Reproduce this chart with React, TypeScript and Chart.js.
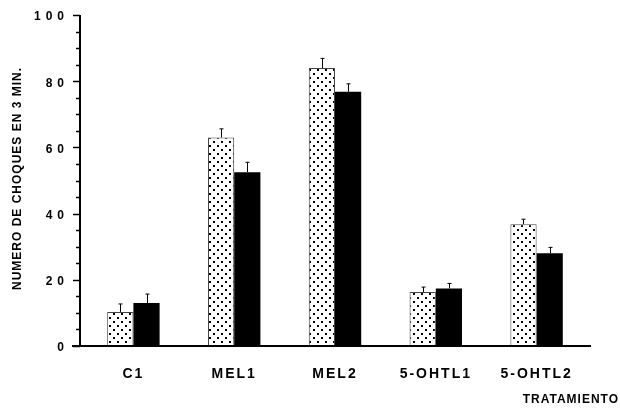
import React, { useEffect, useRef } from "react";
import { Chart, registerables } from "chart.js";

Chart.register(...registerables);

const categories = ["C1", "MEL1", "MEL2", "5-OHTL1", "5-OHTL2"];
const dottedValues = [10.3, 63.0, 84.0, 16.3, 36.8];
const dottedErrors = [2.4, 2.6, 2.9, 1.5, 1.5];
const blackValues = [13.0, 52.5, 76.8, 17.4, 28.0];
const blackErrors = [2.7, 3.0, 2.4, 1.5, 1.8];
const yTickValues = [0, 20, 40, 60, 80, 100];
const yTitle = "NUMERO DE CHOQUES EN 3 MIN.";
const xTitle = "TRATAMIENTO";

const FONT = "'Liberation Sans', Arial, sans-serif";

function makePattern(): CanvasPattern | string {
  const c = document.createElement("canvas");
  c.width = 8;
  c.height = 8;
  const g = c.getContext("2d");
  if (!g) return "#fff";
  g.fillStyle = "#fff";
  g.fillRect(0, 0, 8, 8);
  g.fillStyle = "#000";
  g.fillRect(1, 1, 2, 2);
  g.fillRect(5, 5, 2, 2);
  const p = g.createPattern(c, "repeat");
  return p || "#fff";
}

const customPlugin = {
  id: "custom",
  beforeDraw(chart: any) {
    (chart.ctx as any).letterSpacing = "2px";
  },
  afterDraw(chart: any) {
    const ctx = chart.ctx as any;
    const y = chart.scales.y;
    const area = chart.chartArea;
    const axisX = 80;
    const base = y.getPixelForValue(0);
    const top = y.getPixelForValue(100);
    ctx.save();
    ctx.strokeStyle = "#000";
    ctx.fillStyle = "#000";
    // y axis line
    ctx.lineWidth = 2;
    ctx.beginPath();
    ctx.moveTo(axisX, top);
    ctx.lineTo(axisX, base + 1);
    ctx.stroke();
    // baseline
    ctx.beginPath();
    ctx.moveTo(axisX - 8, base);
    ctx.lineTo(591, base);
    ctx.stroke();
    // ticks every 5
    ctx.lineWidth = 1.5;
    for (let v = 0; v <= 100; v += 5) {
      const py = Math.round(y.getPixelForValue(v)) + 0.5;
      const major = v % 20 === 0;
      ctx.beginPath();
      ctx.moveTo(axisX - (major ? 7 : 4), py);
      ctx.lineTo(axisX, py);
      ctx.stroke();
    }
    // y tick labels
    ctx.font = `bold 12px ${FONT}`;
    ctx.letterSpacing = "5px";
    ctx.textAlign = "right";
    ctx.textBaseline = "middle";
    yTickValues.forEach((v) => {
      ctx.fillText(String(v), 69, y.getPixelForValue(v) + 2);
    });
    // y title
    ctx.save();
    ctx.translate(18, (area.top + area.bottom) / 2 - 2);
    ctx.rotate(-Math.PI / 2);
    ctx.letterSpacing = "1px";
    ctx.textAlign = "center";
    ctx.textBaseline = "middle";
    ctx.font = `bold 12px ${FONT}`;
    ctx.fillText(yTitle, 0, 0);
    ctx.restore();
    // x title
    ctx.letterSpacing = "1px";
    ctx.textAlign = "right";
    ctx.textBaseline = "middle";
    ctx.font = `bold 12px ${FONT}`;
    ctx.fillText(xTitle, 619, 400);
    ctx.restore();
  },
  afterDatasetsDraw(chart: any) {
    const ctx = chart.ctx;
    const y = chart.scales.y;
    const errs = [dottedErrors, blackErrors];
    const vals = [dottedValues, blackValues];
    ctx.save();
    ctx.strokeStyle = "#000";
    ctx.lineWidth = 1;
    [0, 1].forEach((d) => {
      const meta = chart.getDatasetMeta(d);
      meta.data.forEach((el: any, i: number) => {
        const x = Math.round(el.x) + 0.5;
        const yTop = y.getPixelForValue(vals[d][i]);
        const yErr = y.getPixelForValue(vals[d][i] + errs[d][i]);
        ctx.beginPath();
        ctx.moveTo(x, yTop);
        ctx.lineTo(x, yErr);
        ctx.moveTo(x - 2, yErr);
        ctx.lineTo(x + 2, yErr);
        ctx.stroke();
      });
    });
    ctx.restore();
  },
};

export default function App() {
  const ref = useRef<HTMLCanvasElement | null>(null);
  useEffect(() => {
    if (!ref.current) return;
    const pattern = makePattern();
    const chart = new Chart(ref.current, {
      type: "bar",
      data: {
        labels: categories,
        datasets: [
          {
            data: dottedValues,
            backgroundColor: pattern as any,
            borderColor: "#444",
            borderWidth: 1,
            categoryPercentage: 0.52,
            barPercentage: 1,
          },
          {
            data: blackValues,
            backgroundColor: "#000",
            borderWidth: 0,
            categoryPercentage: 0.52,
            barPercentage: 1,
          },
        ],
      },
      options: {
        animation: false,
        responsive: true,
        maintainAspectRatio: false,
        layout: { padding: { top: 15, right: 33, left: 0, bottom: 0 } },
        plugins: {
          legend: { display: false },
          tooltip: { enabled: false },
        },
        scales: {
          x: {
            grid: { display: false, drawTicks: false },
            border: { display: false },
            ticks: {
              color: "#000",
              font: { family: FONT, size: 14, weight: "bold" },
              padding: 20,
              maxRotation: 0,
            },
            afterFit: (s: any) => {
              s.height = 66;
            },
          },
          y: {
            min: 0,
            max: 100,
            grid: { display: false, drawTicks: false },
            border: { display: false },
            ticks: { display: false, stepSize: 5 },
            afterFit: (s: any) => {
              s.width = 83;
            },
          },
        },
      },
      plugins: [customPlugin],
    });
    return () => chart.destroy();
  }, []);
  return (
    <div style={{ position: "fixed", left: 0, top: 0, width: 620, height: 412, background: "#fff" }}>
      <canvas ref={ref} />
    </div>
  );
}
